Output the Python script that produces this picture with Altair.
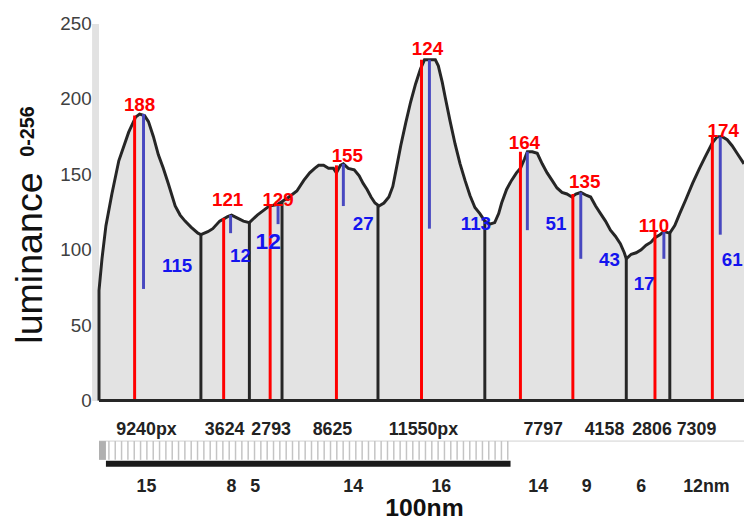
import altair as alt
import pandas as pd
import numpy as np

# ---- luminance profile (position along the profile in px, luminance 0-256)
pos = [100, 100, 103, 107, 113, 120, 130, 137, 141, 146, 150, 155, 160, 165, 170, 177, 182, 187, 193, 200,
       203, 210, 215, 222, 230, 234, 240, 246, 252, 260, 266, 272, 280, 285, 292, 300, 307, 313, 318, 322,
       327, 332, 337, 340, 344, 347, 352, 358, 363, 367, 371, 375, 379, 383, 388, 393, 397, 400, 405, 410,
       415, 420, 425, 429, 433, 440, 443, 447, 450, 455, 460, 465, 470, 475, 480, 485, 490, 495, 500, 504,
       507, 512, 517, 522, 526, 530, 533, 538, 543, 548, 553, 558, 563, 568, 573, 578, 582, 587, 593, 597,
       602, 607, 612, 617, 622, 627, 631, 633, 638, 643, 648, 653, 658, 662, 667, 671, 677, 682, 687, 693,
       700, 707, 713, 720, 725, 730, 735, 740, 745, 752]
lum = [0, 73, 94, 116, 137, 159, 178, 188, 190, 189, 185, 175, 163, 154, 144, 129, 123, 119, 115, 111,
       110, 112, 114, 119, 122, 123, 121, 119, 118, 123, 126, 129, 130, 132, 135, 139, 146, 151, 154, 156,
       156, 154, 154, 151, 156, 157, 154, 153, 149, 144, 140, 135, 131, 129, 131, 135, 142, 152, 169, 184,
       198, 210, 220, 226, 226, 226, 222, 211, 201, 185, 170, 157, 146, 136, 128, 124, 119, 117, 118, 124,
       131, 140, 146, 151, 154, 160, 165, 165, 164, 157, 151, 146, 141, 138, 137, 135, 137, 138, 136, 135,
       129, 124, 119, 113, 109, 104, 98, 94, 97, 98, 100, 103, 105, 108, 110, 112, 111, 116, 124, 133,
       144, 154, 162, 171, 175, 175, 173, 169, 164, 157]

# ---- segment separators (black)
sep_x = [203, 252, 285, 382, 490, 633, 677]
sep_top = [110, 118, 132, 129, 119, 94, 111]

# ---- red markers and their labels
red_x = [136, 226, 273, 340, 426, 526, 579, 662, 720]
red_top = [189, 121, 129, 156, 226, 165, 137, 112, 175]
red_text = ["188", "121", "129", "155", "124", "164", "135", "110", "174"]
red_lx = [141, 230, 281, 351, 432, 530, 591, 661, 731]
red_ly = [196, 133, 133, 162, 233, 171, 145, 116, 179]

# ---- blue markers and their labels
blue_x = [145, 233, 281, 347, 434, 533, 587, 671, 728]
blue_top = [190, 123, 129, 157, 226, 165, 138, 112, 175]
blue_bot = [74, 111, 117, 129, 114, 113, 94, 94, 110]
blue_text = ["115", "12", "27", "113", "51", "43", "17", "61"]
blue_lx = [179, 243, 367, 481, 562, 616, 651, 740]
blue_ly = [89, 96, 117, 117, 117, 93, 77, 93]
big_text = ["12"]
big_lx = [271]
big_ly = [105]

# ---- labels under the profile
px_text = ["9240px", "3624", "2793", "8625", "11550px", "7797", "4158", "2806", "7309"]
px_lx = [148, 227, 274, 336, 428, 549, 611, 659, 704]
nm_text = ["15", "8", "5", "14", "16", "14", "9", "6", "12nm"]
nm_lx = [148, 234, 258, 357, 446, 544, 593, 648, 714]

# ---- scale bar (100 nm)
bar_start, bar_end = 107, 516
ruler_ticks = list(np.arange(110, 516, 6.4))

X0, X1 = 97, 752
xs = alt.Scale(domain=[X0, X1], nice=False, zero=False)
ys = alt.Scale(domain=[0, 250], nice=False)
FONT = "Liberation Sans"

curve = pd.DataFrame({"x": pos, "y": lum})

area = alt.Chart(curve).mark_area(color="#e3e3e3").encode(
    x=alt.X("x:Q", scale=xs, axis=None),
    y=alt.Y("y:Q", scale=ys,
            axis=alt.Axis(values=[0, 50, 100, 150, 200, 250], grid=False, ticks=False,
                          domainColor="#e2e2e2", domainWidth=7, offset=1,
                          labelFontSize=19, labelColor="#404040", labelFont=FONT,
                          labelPadding=4, title=None)),
)
line = alt.Chart(curve).mark_line(color="#262626", strokeWidth=3).encode(
    x=alt.X("x:Q", scale=xs), y=alt.Y("y:Q", scale=ys))

base = alt.Chart(pd.DataFrame({"a": [0]})).mark_rule(color="#262626", strokeWidth=3).encode(
    x=alt.datum(100, scale=xs), x2=alt.datum(X1), y=alt.datum(0, scale=ys))

sep = alt.Chart(pd.DataFrame({"x": sep_x, "y": sep_top, "y0": [0] * len(sep_x)})).mark_rule(
    color="#262626", strokeWidth=3).encode(
    x=alt.X("x:Q", scale=xs), y=alt.Y("y0:Q", scale=ys), y2="y:Q")

red = alt.Chart(pd.DataFrame({"x": red_x, "y": red_top, "y0": [0] * len(red_x)})).mark_rule(
    color="#ff0000", strokeWidth=3).encode(
    x=alt.X("x:Q", scale=xs), y=alt.Y("y0:Q", scale=ys), y2="y:Q")

blue = alt.Chart(pd.DataFrame({"x": blue_x, "y": blue_top, "y0": blue_bot})).mark_rule(
    color="#4848c0", strokeWidth=3).encode(
    x=alt.X("x:Q", scale=xs), y=alt.Y("y0:Q", scale=ys), y2="y:Q")

red_lbl = alt.Chart(pd.DataFrame({"x": red_lx, "y": red_ly, "t": red_text})).mark_text(
    color="#ff0000", fontWeight="bold", fontSize=19, font=FONT).encode(
    x=alt.X("x:Q", scale=xs), y=alt.Y("y:Q", scale=ys), text="t:N")

blue_lbl = alt.Chart(pd.DataFrame({"x": blue_lx, "y": blue_ly, "t": blue_text})).mark_text(
    color="#1414ee", fontWeight="bold", fontSize=19, font=FONT).encode(
    x=alt.X("x:Q", scale=xs), y=alt.Y("y:Q", scale=ys), text="t:N")

big_lbl = alt.Chart(pd.DataFrame({"x": big_lx, "y": big_ly, "t": big_text})).mark_text(
    color="#1414ee", fontWeight="bold", fontSize=23, font=FONT).encode(
    x=alt.X("x:Q", scale=xs), y=alt.Y("y:Q", scale=ys), text="t:N")

px_lbl = alt.Chart(pd.DataFrame({"x": px_lx, "t": px_text})).mark_text(
    color="#222222", fontWeight="bold", fontSize=18, font=FONT).encode(
    x=alt.X("x:Q", scale=xs), y=alt.value(411), text="t:N")

nm_lbl = alt.Chart(pd.DataFrame({"x": nm_lx, "t": nm_text})).mark_text(
    color="#222222", fontWeight="bold", fontSize=18, font=FONT).encode(
    x=alt.X("x:Q", scale=xs), y=alt.value(468), text="t:N")

scale_lbl = alt.Chart(pd.DataFrame({"x": [429], "t": ["100nm"]})).mark_text(
    color="#111111", fontWeight="bold", fontSize=25, font=FONT, baseline="alphabetic").encode(
    x=alt.X("x:Q", scale=xs), y=alt.value(498), text="t:N")

one = pd.DataFrame({"a": [0]})
ruler_line = alt.Chart(one).mark_rule(color="#d0d0d0", strokeWidth=1).encode(
    x=alt.datum(100, scale=xs), x2=alt.datum(X1), y=alt.value(422))
ruler_grey = alt.Chart(one).mark_rect(color="#b0b0b0").encode(
    x=alt.datum(100, scale=xs), x2=alt.datum(bar_start), y=alt.value(422), y2=alt.value(441))
ruler_tk = alt.Chart(pd.DataFrame({"x": ruler_ticks})).mark_rule(color="#c4c4c4", strokeWidth=1.5).encode(
    x=alt.X("x:Q", scale=xs), y=alt.value(422), y2=alt.value(441))
ruler_bar = alt.Chart(one).mark_rect(color="#1a1a1a").encode(
    x=alt.datum(bar_start, scale=xs), x2=alt.datum(bar_end), y=alt.value(442), y2=alt.value(448))

ytitle = alt.Chart(pd.DataFrame({"t": ["luminance"]})).mark_text(
    fontSize=38, font=FONT, color="#111111", angle=270, align="center", baseline="alphabetic").encode(
    text="t:N", x=alt.value(-55), y=alt.value(237))
ysub = alt.Chart(pd.DataFrame({"t": ["0-256"]})).mark_text(
    fontSize=20, fontWeight="bold", font=FONT, color="#111111", angle=270,
    align="center", baseline="middle").encode(
    text="t:N", x=alt.value(-69), y=alt.value(109))

chart = alt.layer(
    area, line, sep, red, blue, base, red_lbl, blue_lbl, big_lbl,
    px_lbl, ruler_line, ruler_grey, ruler_tk, ruler_bar, nm_lbl, scale_lbl, ytitle, ysub
).properties(
    width=655, height=381,
    autosize=alt.AutoSizeParams(type="none"),
    padding={"left": 89, "top": 13, "right": 0, "bottom": 118},
).configure_view(stroke=None)

chart.save("out.html", embed_options={"renderer": "svg", "actions": False})
